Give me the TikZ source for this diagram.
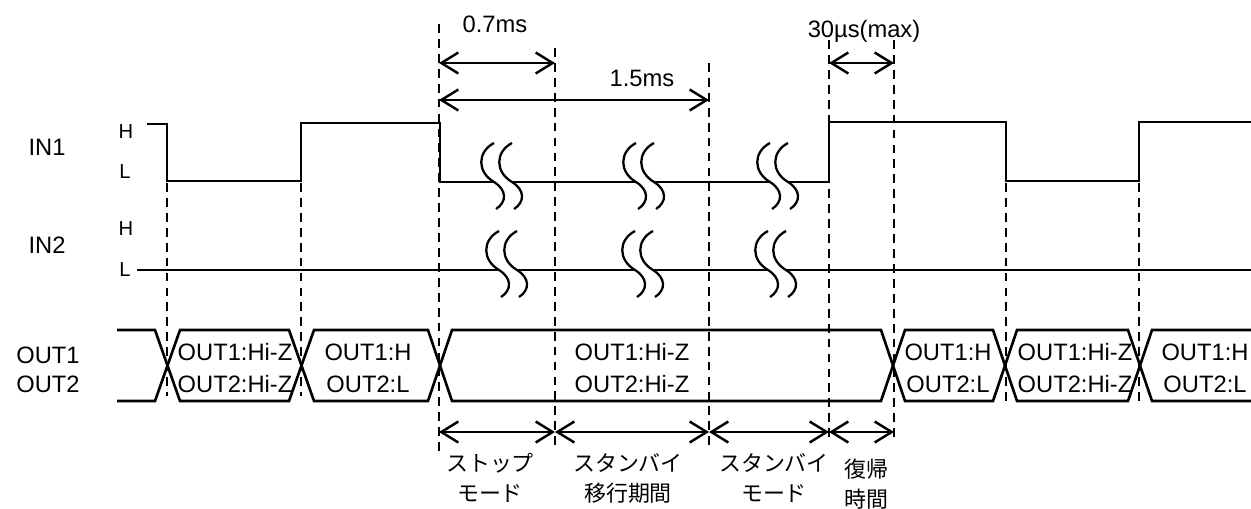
\documentclass[tikz,border=0pt]{standalone}
\usepackage{fontspec}
\setmainfont{Liberation Sans}
\newfontfamily\jpfont{Noto Sans CJK JP}
\usetikzlibrary{arrows.meta}

\tikzset{
  wavebreak/.pic={
    \fill[white] (0,-39) .. controls (-17,-30) and (-17,-10) .. (0,0)
      .. controls (13,8) and (13,20) .. (2,27) -- (20,27)
      .. controls (31,20) and (31,8) .. (18,0)
      .. controls (1,-10) and (1,-30) .. (18,-39) -- cycle;
    \draw[line width=1.3pt] (0,-39) .. controls (-17,-30) and (-17,-10) .. (0,0)
      .. controls (13,8) and (13,20) .. (2,27);
    \draw[line width=1.3pt] (18,-39) .. controls (1,-30) and (1,-10) .. (18,0)
      .. controls (31,8) and (31,20) .. (20,27);
  }
}

\begin{document}
\begin{tikzpicture}[x=0.02cm,y=-0.02cm,line join=miter,
  sig/.style={line width=1.5pt},
  guide/.style={line width=1.4pt,dash pattern=on 5pt off 3.5pt},
  span/.style={line width=1.4pt,
    {Straight Barb[length=0.34cm,width=0.42cm]}-{Straight Barb[length=0.34cm,width=0.42cm]}},
  lbl/.style={font=\fontsize{13.5}{16}\selectfont,inner sep=0pt},
  lvl/.style={font=\fontsize{11.5}{14}\selectfont,inner sep=0pt},
  busl/.style={font=\fontsize{13.5}{18.2}\selectfont,align=center,inner sep=0pt},
  jp/.style={font=\fontsize{12.5}{17}\selectfont\jpfont,align=center,inner sep=0pt}]
\useasboundingbox (0,0) rectangle (1251,508);

% signal names
\node[lbl] (in1) at (47,147) {IN1};
\node[lbl] (in2) at (47,245) {IN2};
\node[lbl] (out1) at (48,355) {OUT1};
\node[lbl] (out2) at (48,384) {OUT2};
\node[lvl] (h1) at (126,132) {H};
\node[lvl] (l1) at (125,172) {L};
\node[lvl] (h2) at (126,229) {H};
\node[lvl] (l2) at (125,270) {L};

% IN1, IN2
\draw[sig] (147,124) -- (167,124) -- (167,181) -- (301,181) -- (301,123) -- (440,123)
  -- (440,182) -- (829,182) -- (829,122) -- (1006,122) -- (1006,181) -- (1139,181)
  -- (1139,122) -- (1251,122);
\draw[sig] (137,270) -- (1251,270);

\pic at (494,182) {wavebreak};
\pic at (636,182) {wavebreak};
\pic at (770,182) {wavebreak};
\pic at (499,270) {wavebreak};
\pic at (635,270) {wavebreak};
\pic at (768,270) {wavebreak};

% OUT bus
\draw[sig] (117,330) -- (155,330) -- (180,401) -- (289,401) -- (314,330) -- (428,330)
  -- (452,401) -- (881,401) -- (905,330) -- (993,330) -- (1017,401) -- (1128,401)
  -- (1152,330) -- (1251,330);
\draw[sig] (117,401) -- (155,401) -- (180,330) -- (289,330) -- (314,401) -- (428,401)
  -- (452,330) -- (881,330) -- (905,401) -- (993,401) -- (1017,330) -- (1128,330)
  -- (1152,401) -- (1251,401);

\node[busl] (box1) at (235,368) {OUT1:Hi-Z\\OUT2:Hi-Z};
\node[busl] (box2) at (368,368) {OUT1:H\\OUT2:L};
\node[busl] (box3) at (632,368) {OUT1:Hi-Z\\OUT2:Hi-Z};
\node[busl] (box4) at (948,368) {OUT1:H\\OUT2:L};
\node[busl] (box5) at (1075,368) {OUT1:Hi-Z\\OUT2:Hi-Z};
\node[busl] (box6) at (1205,368) {OUT1:H\\OUT2:L};

% timing guides
\draw[guide] (167,183) -- (167,396);
\draw[guide] (301,183) -- (301,396);
\draw[guide] (439,24) -- (439,455);
\draw[guide] (555,48) -- (555,448);
\draw[guide] (709,63) -- (709,447);
\draw[guide] (829,40) -- (829,442);
\draw[guide] (894,40) -- (894,442);
\draw[guide] (1006,183) -- (1006,407);
\draw[guide] (1139,183) -- (1139,407);

% durations
\coordinate (d07a) at (439,63);
\coordinate (d07b) at (555,63);
\coordinate (d15a) at (439,100);
\coordinate (d15b) at (709,100);
\coordinate (d30a) at (829,63);
\coordinate (d30b) at (894,63);
\draw[span] (d07a) -- (d07b);
\draw[span] (d15a) -- (d15b);
\draw[span] (d30a) -- (d30b);
\node[lbl] (t07) at (495,24) {0.7ms};
\node[lbl] (t15) at (642,78) {1.5ms};
\node[lbl] (t30) at (864,31) {30µs(max)};

% modes
\coordinate (m0) at (439,432);
\coordinate (m1) at (555,432);
\coordinate (m2) at (709,432);
\coordinate (m3) at (829,432);
\coordinate (m4) at (894,432);
\draw[span] (m0) -- (m1);
\draw[span] (m1) -- (m2);
\draw[span] (m2) -- (m3);
\draw[span] (m3) -- (m4);
\node[jp] (stop) at (490,478) {ストップ\\モード};
\node[jp] (trans) at (628,478) {スタンバイ\\移行期間};
\node[jp] (sby) at (774,478) {スタンバイ\\モード};
\node[jp] (back) at (866,484) {復帰\\時間};

\end{tikzpicture}
\end{document}
